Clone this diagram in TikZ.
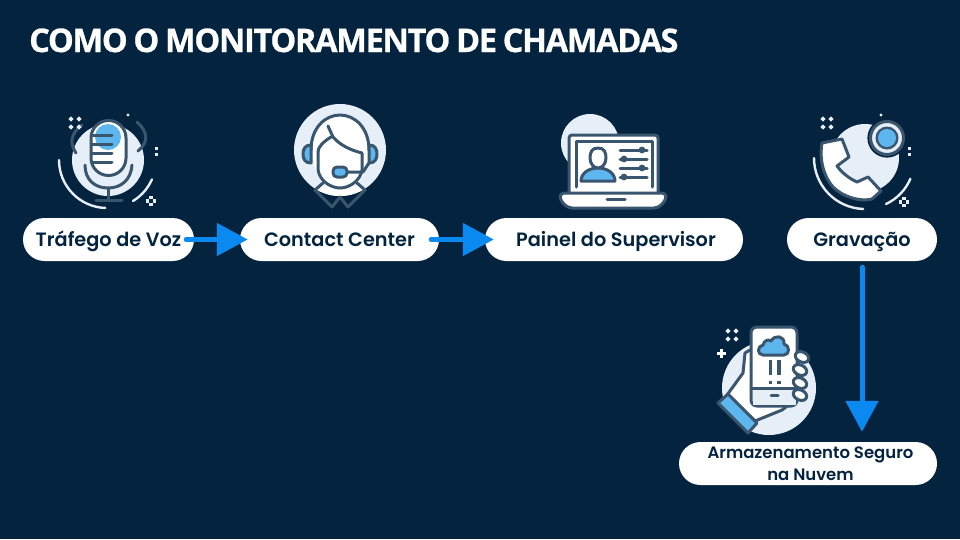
\documentclass[tikz,border=0pt]{standalone}
\usepackage{fontspec}
\usetikzlibrary{arrows.meta}
\newfontfamily\titlefont[LetterSpace=-4,FakeBold=0.8,WordSpace=0.8]{Open Sans}
\newfontfamily\labelfont{Poppins}[UprightFont={* Medium},BoldFont={* SemiBold}]
\definecolor{bgnavy}{HTML}{04233F}
\definecolor{softdisc}{HTML}{E6EEF8}
\definecolor{skyfill}{HTML}{5DB7EE}
\definecolor{inkline}{HTML}{3A566F}
\definecolor{flowblue}{HTML}{0A8AF0}
\tikzset{
  disc/.style={fill=softdisc},
  ink/.style={draw=inkline,line width=3pt,line join=round,line cap=round},
  inkwhite/.style={ink,fill=white},
  inksky/.style={ink,fill=skyfill},
  glow/.style={draw=softdisc,line width=2.4pt,line cap=round},
  pill/.style={fill=white,rounded corners=21.5pt,inner sep=0pt,minimum height=43pt,font=\labelfont\bfseries\fontsize{19.3}{22}\selectfont,text=bgnavy,align=center},
  oneline/.style={text height=16pt,text depth=3pt},
  flow/.style={draw=flowblue,line width=5pt,line cap=round,-{Triangle[length=31pt,width=32pt]}},
  speck/.style={fill=softdisc}
}
\newcommand{\sparkle}[2]{%
  \foreach \dx/\dy in {-4/-4,4/-4,-4/4,4/4}{
    \fill[speck] (#1+\dx-2.6,#2+\dy) -- (#1+\dx,#2+\dy-2.6) -- (#1+\dx+2.6,#2+\dy) -- (#1+\dx,#2+\dy+2.6) -- cycle;}}
\newcommand{\cluster}[2]{%
  \foreach \dx/\dy in {-3.6/0,3.6/0,0/-3.6,0/3.6}{
    \fill[speck] (#1+\dx-1.7,#2+\dy-1.7) rectangle (#1+\dx+1.7,#2+\dy+1.7);}}
\begin{document}
\begin{tikzpicture}[x=1pt,y=-1pt]
\useasboundingbox (0,0) rectangle (960,539);
\fill[bgnavy] (0,0) rectangle (960,539);
\node[anchor=base west,inner sep=0pt,text=white,font=\titlefont\bfseries\fontsize{32.5}{36}\selectfont] (title) at (29,52) {COMO O MONITORAMENTO DE CHAMADAS};

% --- microphone
\fill[disc] (108,160) circle[radius=36];
\draw[ink] (82,125) .. controls (71,133) and (69,143) .. (76,153);
\draw[ink] (137,122) .. controls (148,132) and (149,142) .. (138,151);
\draw[glow] (59,160) arc[start angle=180,end angle=92,radius=48];
\draw[glow] (133,201) arc[start angle=58.6,end angle=23.7,radius=48];
\path[fill=white] (91,138) arc[start angle=180,end angle=360,radius=17.5] -- (126,158) arc[start angle=0,end angle=180,radius=17.5] -- cycle;
\fill[skyfill] (108,137) circle[radius=13];
\draw[ink] (91,138) arc[start angle=180,end angle=360,radius=17.5] -- (126,158) arc[start angle=0,end angle=180,radius=17.5] -- cycle;
\foreach \yy in {135,144,153,162}{\draw[ink] (92,\yy) -- (112,\yy);}
\draw[ink] (85,165) .. controls (85,180) and (95,188) .. (108,188) .. controls (121,188) and (131,180) .. (132,165);
\draw[ink] (108,188) -- (108,200);
\draw[ink] (96,200) -- (122,200);
\sparkle{75}{123}
\fill[speck] (128,115) circle[radius=1.6];
\fill[speck] (154.5,146.5) rectangle (157.5,149.5);
\fill[speck] (154.5,152.5) rectangle (157.5,155.5);
\cluster{151}{201}

% --- agent
\fill[disc] (340,150) circle[radius=46];
\fill[white] (311,152) .. controls (311,128) and (325,115) .. (340,115) .. controls (355,115) and (369,128) .. (369,152) -- (365,172) -- (355,188) -- (325,188) -- (316,172) -- cycle;
\begin{scope}
\clip (340,150) circle[radius=46];
\fill[white] (323,180) -- (357,180) -- (365,190) -- (348,207) -- (340,197) -- (332,207) -- (315,190) -- cycle;
\end{scope}
\draw[ink] (311,150) .. controls (311,128) and (325,115) .. (340,115) .. controls (355,115) and (369,128) .. (369,150);
\draw[inksky] (311,145) .. controls (305,145) and (303,149) .. (303,154) .. controls (303,159) and (305,163) .. (311,163) -- cycle;
\draw[inksky] (369,145) .. controls (375,145) and (377,149) .. (377,154) .. controls (377,159) and (375,163) .. (369,163) -- cycle;
\draw[ink] (328,126) -- (333,137) .. controls (340,145) and (350,150) .. (362,153);
\draw[ink] (331,137) .. controls (323,142) and (318,147) .. (318,152) -- (318,170) .. controls (320,182) and (332,188) .. (340,188) .. controls (348,188) and (360,182) .. (362,170) -- (362,153);
\draw[ink] (323,183) -- (315,190) -- (332,207) -- (340,197) -- (348,207) -- (365,190) -- (357,183);
\draw[ink] (347,172) -- (363,172) -- (369,163);
\draw[inksky,rounded corners=4pt] (333,167) rectangle (347,177);

% --- laptop
\fill[disc] (590,143) circle[radius=29];
\draw[inkwhite,rounded corners=3pt] (569,193) -- (569,135) -- (658,135) -- (658,193);
\draw[ink] (576,187) -- (576,141) -- (652,141) -- (652,187);
\draw[inkwhite,rounded corners=4pt] (560,193) -- (666,193) -- (666,200) -- (658,208) -- (568,208) -- (560,200) -- cycle;
\draw[ink] (607,199.5) -- (625,199.5);
\draw[inksky] (581,181) .. controls (581,173) and (589,168) .. (598,168) .. controls (607,168) and (615,173) .. (615,181) -- cycle;
\draw[inkwhite] (598,148) .. controls (592,148) and (590,152) .. (590,158) .. controls (590,164) and (594,168) .. (598,168) .. controls (602,168) and (606,164) .. (606,158) .. controls (606,152) and (604,148) .. (598,148) -- cycle;
\foreach \yy/\kx in {150/642,159/624,168/642,177/624}{
  \draw[ink] (620,\yy) -- (647,\yy);
  \fill[inkline] (\kx,\yy) circle[radius=3.4];}

% --- recording
\fill[disc] (865,158) circle[radius=34];
\draw[glow] (814,158) arc[start angle=180,end angle=92,radius=51];
\draw[glow] (886,204) arc[start angle=65,end angle=23,radius=49];
\fill[softdisc] (887,138) circle[radius=17];
\draw[bgnavy,line width=2.2pt] (887,138) circle[radius=18.5];
\draw[inkline,line width=3pt] (887,138) circle[radius=16.5];
\fill[inkline] (887,138) circle[radius=11.5];
\fill[skyfill] (887,138) circle[radius=9];
\draw[inkwhite] (822,143) -- (842,139) -- (849,157) -- (837,166) .. controls (842,173) and (850,179) .. (857,182) -- (868,177) -- (881,191) -- (872,199) .. controls (860,202) and (843,197) .. (833,187) .. controls (824,177) and (819,160) .. (822,143) -- cycle;
\sparkle{827}{123}
\fill[speck] (881,115) circle[radius=1.6];
\fill[speck] (907.5,146.5) rectangle (910.5,149.5);
\fill[speck] (907.5,152.5) rectangle (910.5,155.5);
\cluster{904}{202}

% --- cloud storage
\fill[disc] (769,388) circle[radius=47];
\sparkle{732}{335}
\fill[white] (716.5,351.5) rectangle (725.5,354.5);
\fill[white] (719.5,348.5) rectangle (722.5,357.5);
\draw[inkwhite] (750,350) -- (745,353) -- (743,373) -- (727,395) -- (755,421) -- (782,410) -- (795,400) -- (795,352) -- cycle;
\draw[inkwhite,rounded corners=6pt] (751,406) -- (751,327) -- (797,327) -- (797,406) -- cycle;
\fill[softdisc] (752.5,389) rectangle (795.5,404.5);
\draw[ink] (751,388) -- (797,388);
\draw[ink] (771,395) -- (778,395);
\draw[inksky] (763,355) .. controls (757,355) and (757,346) .. (763,345) .. controls (764,340) and (769,339) .. (771,341) .. controls (775,334) and (785,336) .. (784,344) .. controls (790,345) and (790,355) .. (784,355) -- cycle;
\draw[inkline,line width=3.6pt] (770.5,360) -- (770.5,375);
\draw[inkline,line width=3.6pt] (779,360) -- (779,375);
\draw[inkline,line width=3.6pt] (770.5,381) -- (770.5,384);
\draw[inkline,line width=3.6pt] (779,381) -- (779,384);
\foreach \fx/\fy in {802/357,800/370,800/383,800/395}{
  \draw[inkwhite,rotate around={-25:(\fx,\fy)}] (\fx,\fy) ellipse[x radius=7,y radius=5];}
\draw[inksky] (718,403) -- (728,394) -- (757,423) -- (748,433) -- cycle;

% --- labels
\node[pill,oneline,minimum width=171pt] (voz) at (108.5,239.5) {Tráfego de Voz};
\node[pill,oneline,minimum width=199pt] (center) at (339.5,239.5) {Contact Center};
\node[pill,oneline,minimum width=258pt] (painel) at (614,239.5) {\hspace*{4pt}Painel do Supervisor};
\node[pill,oneline,minimum width=150pt] (grav) at (862,239.5) {Gravação};
\node[pill,minimum width=258pt,font=\labelfont\bfseries\fontsize{16.5}{22}\selectfont] (nuvem) at (808,463.5) {\hspace*{5pt}Armazenamento Seguro\\\hspace*{5pt}na Nuvem};

% --- connectors
\draw[flow] ([xshift=-8pt]voz.east) -- ([xshift=8pt]center.west);
\draw[flow] ([xshift=-8pt]center.east) -- ([xshift=9pt]painel.west);
\draw[flow] ([yshift=-6pt]grav.south) -- ([yshift=10pt]grav.south |- nuvem.north);
\end{tikzpicture}
\end{document}
